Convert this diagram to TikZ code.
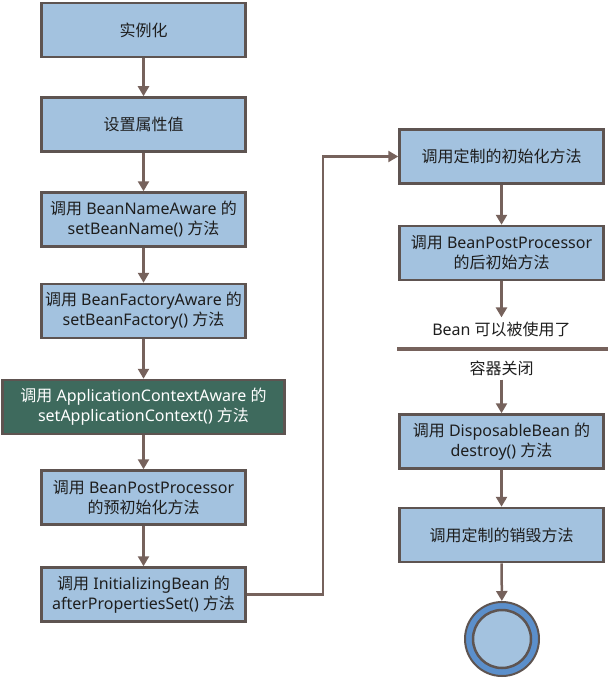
\documentclass[tikz,border=0pt]{standalone}
\usepackage{fontspec}
\setmainfont{Noto Sans}
\newfontfamily\cjk{Noto Sans CJK SC}
\newcommand{\zh}[1]{{\cjk #1}}
\usetikzlibrary{arrows.meta}
\definecolor{boxfill}{HTML}{A3C2DF}
\definecolor{boxedge}{HTML}{5E5451}
\definecolor{arrowc}{HTML}{76625C}
\definecolor{greenfill}{HTML}{3E6A5D}
\definecolor{ringblue}{HTML}{5B8FCB}
\definecolor{txt}{HTML}{1E1E1E}
\tikzset{
 stepbox/.style={draw=boxedge, line width=2.5pt, fill=boxfill, minimum width=204pt, minimum height=54pt, align=center, font=\fontsize{16}{20}\selectfont, text=txt, inner sep=0pt},
 greenbox/.style={stepbox, fill=greenfill, text=white, minimum width=282pt},
 plain/.style={font=\fontsize{16}{20}\selectfont, text=txt, inner sep=4pt},
 flow/.style={draw=arrowc, line width=2.5pt, -{Triangle[length=10pt,width=11pt]}},
}
\begin{document}
\begin{tikzpicture}[x=1pt,y=-1pt]
\useasboundingbox (0,0) rectangle (608,679);
\node[stepbox] (b1) at (143.5,30) {\zh{实例化}};
\node[stepbox] (b2) at (143.5,124.5) {\zh{设置属性值}};
\node[stepbox] (b3) at (143.5,219.5) {\zh{调用} BeanNameAware \zh{的}\\setBeanName() \zh{方法}};
\node[stepbox] (b4) at (143.5,311) {\zh{调用} BeanFactoryAware \zh{的}\\setBeanFactory() \zh{方法}};
\node[greenbox] (b5) at (143.5,407) {\zh{调用} ApplicationContextAware \zh{的}\\setApplicationContext() \zh{方法}};
\node[stepbox] (b6) at (143.5,497.5) {\zh{调用} BeanPostProcessor\\\zh{的预初始化方法}};
\node[stepbox] (b7) at (143.5,594.5) {\zh{调用} InitializingBean \zh{的}\\afterPropertiesSet() \zh{方法}};

\node[stepbox] (r1) at (501.5,156.5) {\zh{调用定制的初始化方法}};
\node[stepbox] (r2) at (501.5,253) {\zh{调用} BeanPostProcessor\\\zh{的后初始方法}};
\node[plain] (t1) at (501.5,329) {Bean \zh{可以被使用了}};
\node[plain] (t2) at (501.5,368) {\zh{容器关闭}};
\node[stepbox] (r3) at (501.5,441.5) {\zh{调用} DisposableBean \zh{的}\\destroy() \zh{方法}};
\node[stepbox] (r4) at (501.5,535) {\zh{调用定制的销毁方法}};
\node[circle, draw=boxedge, line width=2pt, fill=ringblue, minimum size=74pt, inner sep=0pt] (endo) at (502,639) {};
\node[circle, draw=boxedge, line width=2.5pt, fill=boxfill, minimum size=58pt, inner sep=0pt] (endi) at (502,639) {};

\coordinate (lineL) at (397,349);
\coordinate (lineR) at (608,349);
\coordinate (bend) at (323,0);

\draw[flow] (b1) -- (b2);
\draw[flow] (b2) -- (b3);
\draw[flow] (b3) -- (b4);
\draw[flow] (b4) -- (b5);
\draw[flow] (b5) -- (b6);
\draw[flow] (b6) -- (b7);
\draw[flow] (b7.east) -- (b7.east -| bend) |- (r1.west);
\draw[flow] (r1) -- (r2);
\draw[flow] (r2) -- (t1);
\draw[draw=arrowc, line width=3.5pt] (lineL) -- (lineR);
\draw[flow] (t2) -- (r3);
\draw[flow] (r3) -- (r4);
\draw[flow] (r4) -- (endo);
\end{tikzpicture}
\end{document}
